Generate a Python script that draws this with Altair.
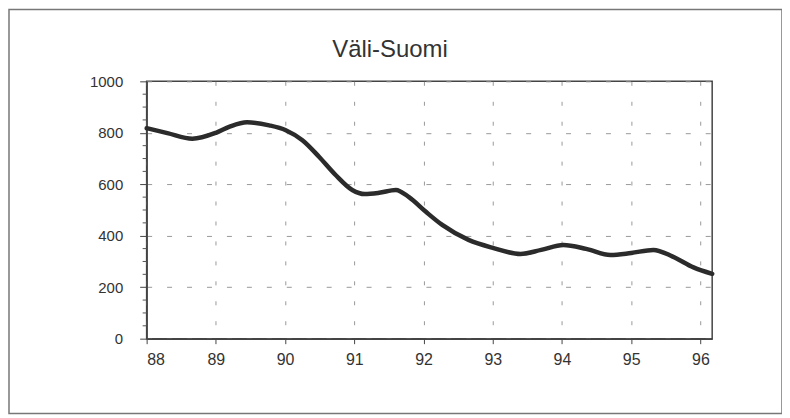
import altair as alt
import pandas as pd

# data
years = [88.0, 88.3, 88.66, 89.0, 89.2, 89.45, 89.77, 90.01, 90.25, 90.49, 90.73,
         90.97, 91.15, 91.36, 91.6, 91.79, 92.03, 92.27, 92.65, 93.0, 93.4, 93.7,
         94.02, 94.35, 94.7, 95.0, 95.32, 95.6, 95.9, 96.17]
values = [818, 799, 777, 800, 824, 841, 829, 810, 771, 707, 636,
          578, 562, 567, 578, 550, 494, 442, 384, 353, 329, 345,
          364, 349, 325, 333, 345, 319, 277, 252]
x_ticks = [88, 89, 90, 91, 92, 93, 94, 95, 96]
y_ticks = [0, 200, 400, 600, 800, 1000]
y_minor = [v for v in range(50, 1000, 50) if v % 200 != 0]
title_text = "Väli-Suomi"

FONT = "Liberation Sans, Arial, sans-serif"
df = pd.DataFrame({"year": years, "value": values})
minor_df = pd.DataFrame({"v": y_minor})

xscale = alt.Scale(domain=[88, 96.17], nice=False, zero=False)
yscale = alt.Scale(domain=[0, 1000], nice=False)

line = alt.Chart(df).mark_line(
    color="#2b2b2b", strokeWidth=4.5, interpolate="monotone", strokeCap="round"
).encode(
    x=alt.X("year:Q", scale=xscale, axis=alt.Axis(
        values=x_ticks, format="d", title=None, grid=True,
        gridDash=[4, 16], gridColor="#999", gridWidth=1,
        tickSize=5, tickColor="#444", domainColor="#444", domainWidth=1.5,
        labelFont=FONT, labelFontSize=16, labelColor="#333", labelPadding=8,
    )),
    y=alt.Y("value:Q", scale=yscale, axis=alt.Axis(
        values=y_ticks, format="d", title=None, grid=True,
        gridDash=[5, 15], gridColor="#999", gridWidth=1,
        tickSize=7, tickColor="#444", domainColor="#444", domainWidth=1.5,
        labelFont=FONT, labelFontSize=15, labelColor="#333", labelPadding=17,
    )),
)

minor = alt.Chart(minor_df).mark_rule(color="#555", strokeWidth=1).encode(
    y=alt.Y("v:Q", scale=yscale),
    x=alt.value(-4),
    x2=alt.value(0),
)

title = alt.Chart(pd.DataFrame({"t": [title_text]})).mark_text(
    font=FONT, fontSize=24, color="#333", align="center", baseline="alphabetic"
).encode(
    text="t:N",
    x=alt.value(244),
    y=alt.value(-24),
)

frame = alt.Chart(pd.DataFrame({"a": [0]})).mark_rect(
    fill=None, stroke="#777", strokeWidth=1.5
).encode(
    x=alt.value(-138), x2=alt.value(637),
    y=alt.value(-72), y2=alt.value(333),
)

chart = alt.layer(frame, line, minor, title).properties(
    width=567, height=258,
    autosize=alt.AutoSizeParams(type="none"),
    padding={"left": 139, "top": 73, "right": 70, "bottom": 76},
    background="white",
).configure_view(stroke="#444", strokeWidth=1.5)

chart.save("out.html", embed_options={"renderer": "svg", "actions": False})
